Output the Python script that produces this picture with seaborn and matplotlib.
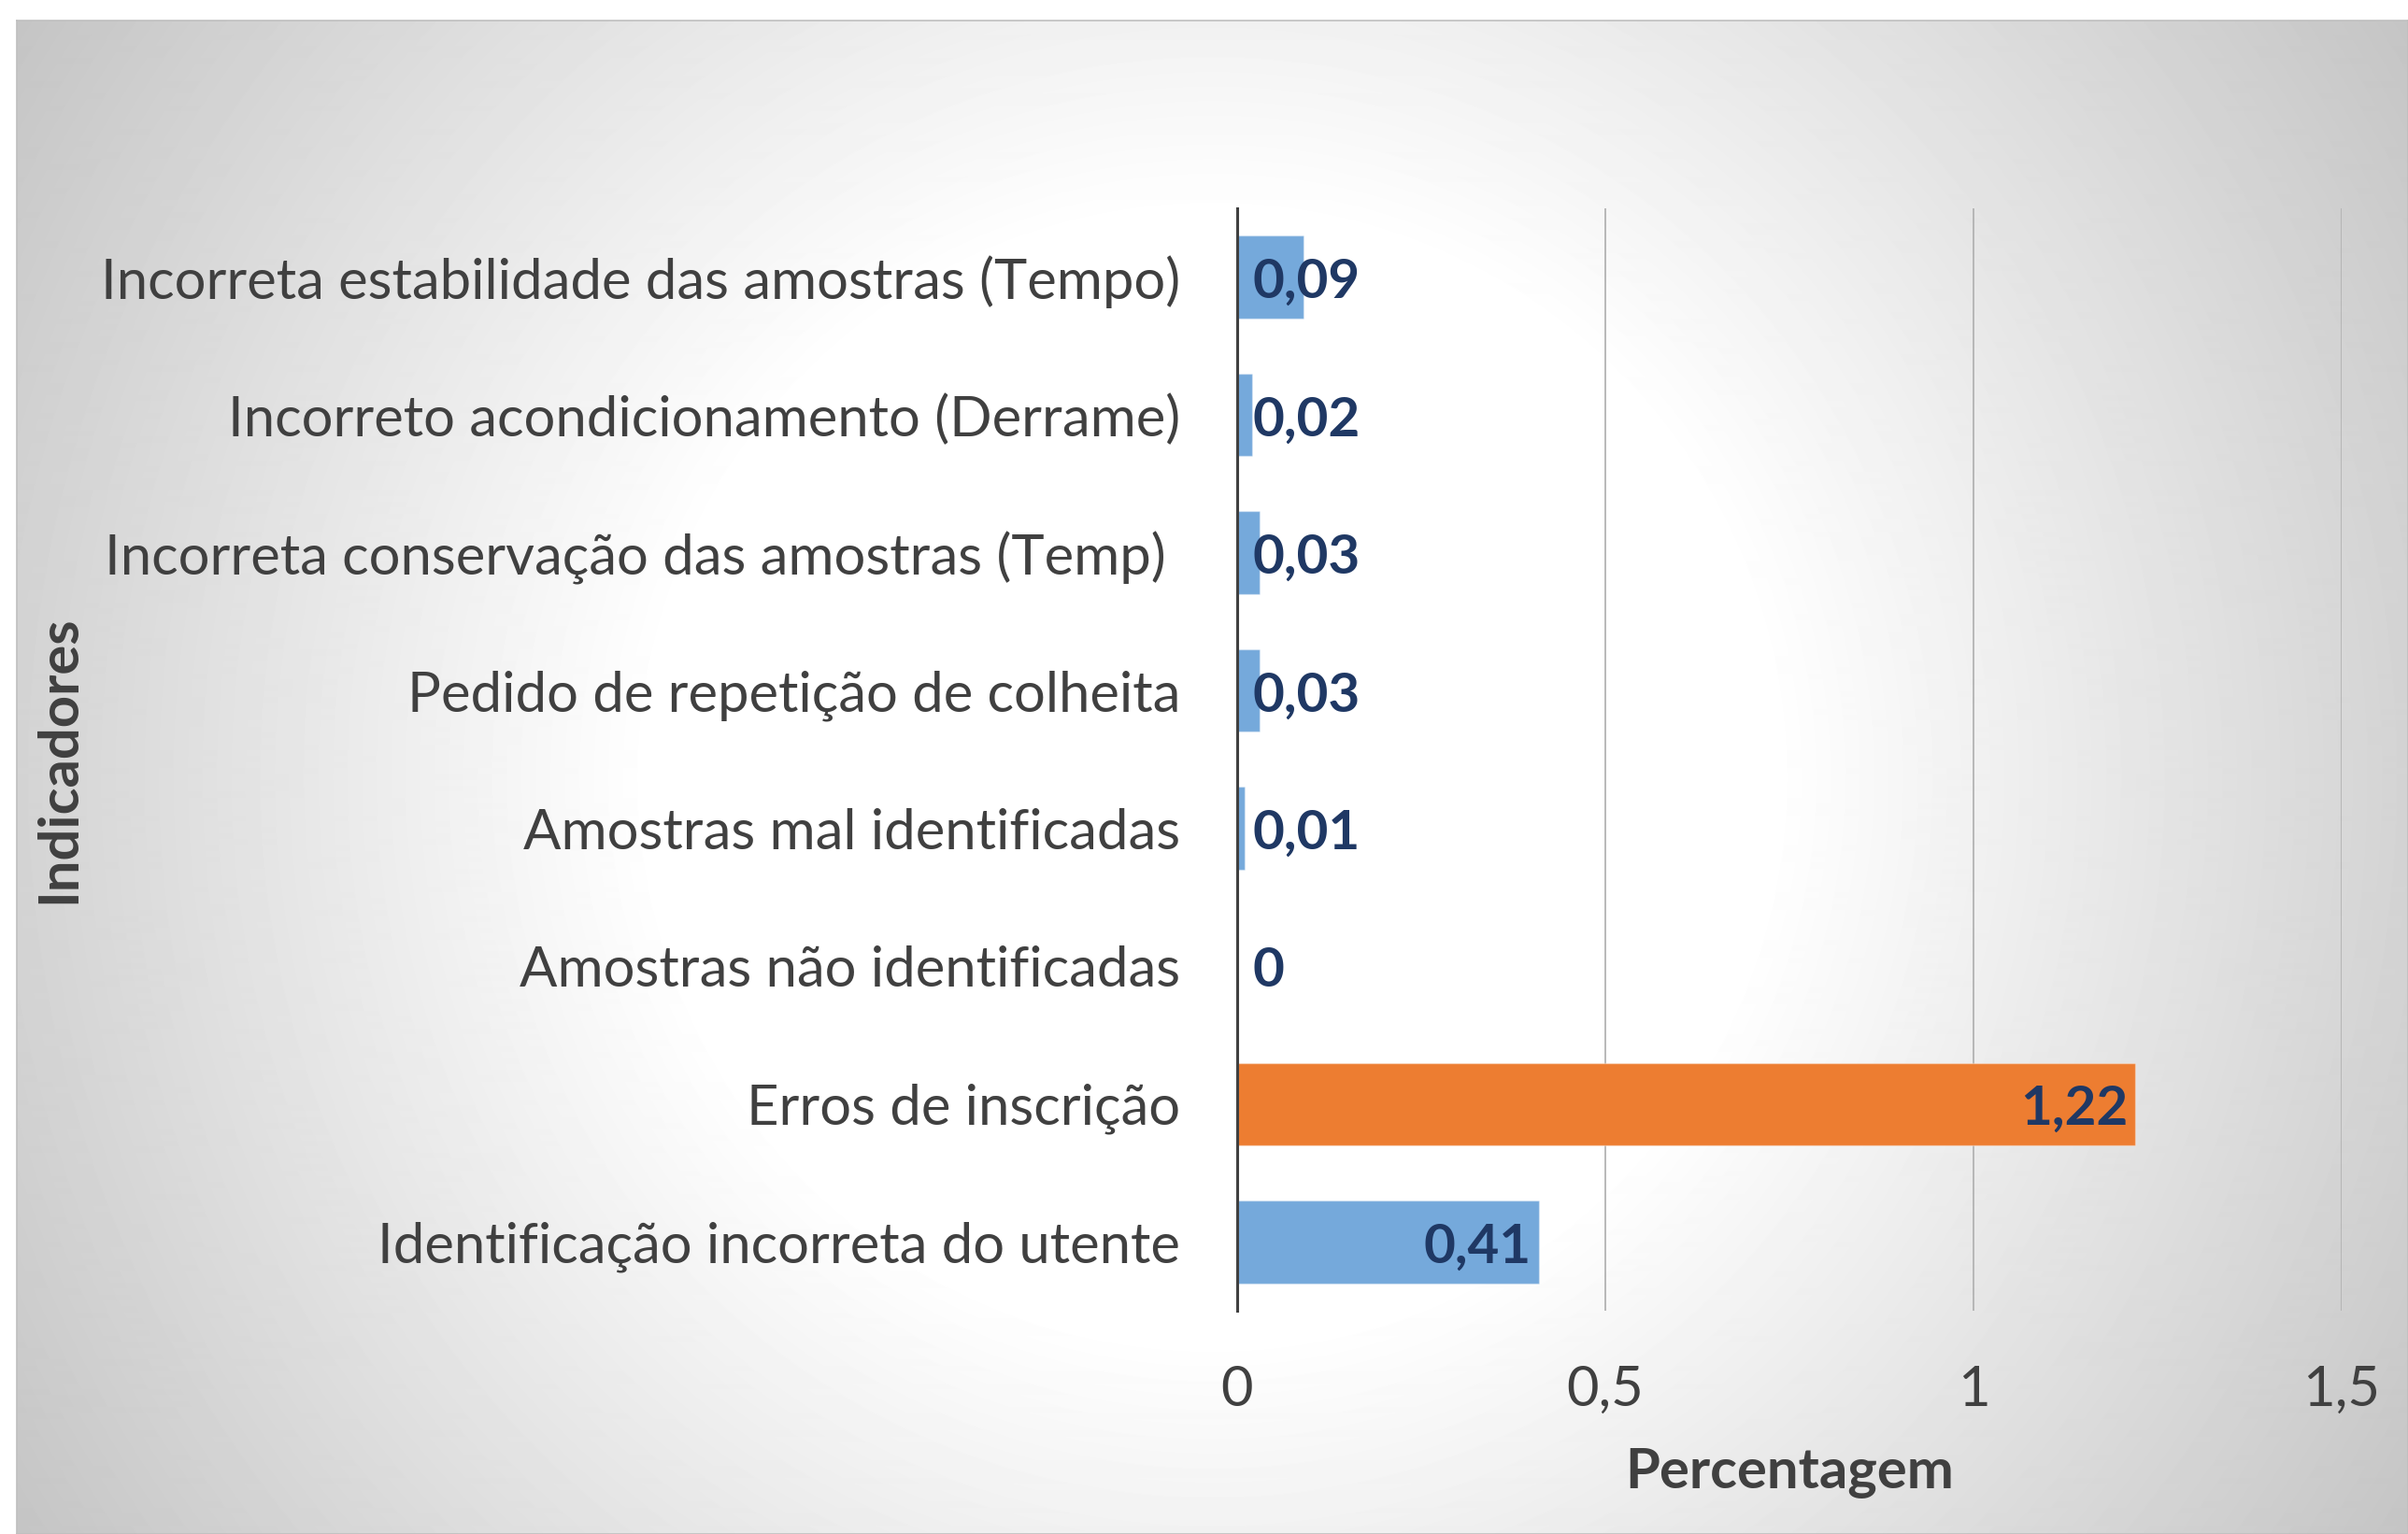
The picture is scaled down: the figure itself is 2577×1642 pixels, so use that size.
import numpy as np
import matplotlib
matplotlib.use("Agg")
import matplotlib.pyplot as plt
from matplotlib.ticker import FuncFormatter
import seaborn as sns

# data (top to bottom as in the chart)
categories = [
    "Incorreta estabilidade das amostras (Tempo)",
    "Incorreto acondicionamento (Derrame)",
    "Incorreta conservação das amostras (Temp) ",
    "Pedido de repetição de colheita",
    "Amostras mal identificadas",
    "Amostras não identificadas",
    "Erros de inscrição",
    "Identificação incorreta do utente",
]
values = [0.09, 0.02, 0.03, 0.03, 0.01, 0, 1.22, 0.41]
highlight = "Erros de inscrição"
x_ticks = [0, 0.5, 1, 1.5]

BLUE = "#75A9DB"
ORANGE = "#ED7D31"
LABEL_COL = "#1F3864"
TEXT_COL = "#404040"

sns.set_style("white")
plt.rcParams["font.family"] = ["Lato", "DejaVu Sans"]

W, H = 2577, 1642
fig = plt.figure(figsize=(W / 100, H / 100), dpi=100)
fig.patch.set_facecolor("white")

# radial grey gradient behind the chart area
x0_px, y0_px = 18, 22
bg = fig.add_axes([x0_px / W, 0, 1 - x0_px / W, (H - y0_px) / H])
xx, yy = np.meshgrid(np.arange(x0_px, W), np.arange(y0_px, H))
cx, cy = (x0_px + W) / 2, (y0_px + H) / 2
r = np.hypot(xx - cx, yy - cy)
shade = 1 - np.clip((r - 600) / 914, 0, None) * 0.23
shade = np.clip(shade, 0.74, 1)
bg.imshow(shade, cmap="gray", vmin=0, vmax=1, aspect="auto",
          interpolation="bilinear")
bg.set_xticks([])
bg.set_yticks([])
for s in bg.spines.values():
    s.set_color("#bfbfbf")
    s.set_linewidth(1.2)

ax = fig.add_axes([1324 / W, (H - 1403) / H, (2506 - 1324) / W, (1403 - 223) / H])
ax.set_facecolor("none")

palette = [ORANGE if c == highlight else BLUE for c in categories]
sns.barplot(x=values, y=categories, hue=categories, palette=palette,
            orient="h", width=0.6, legend=False, ax=ax, saturation=1,
            edgecolor="#ffffff55", linewidth=1)

ax.set_xlim(0, 1.5)
ax.set_ylim(7.5, -0.5)
ax.set_xticks(x_ticks)
ax.xaxis.set_major_formatter(FuncFormatter(lambda v, p: f"{v:g}".replace(".", ",")))
ax.grid(axis="x", color="#b3b3b3", linewidth=1.3)
ax.set_axisbelow(True)
for side in ["top", "right", "bottom"]:
    ax.spines[side].set_visible(False)
ax.spines["left"].set_color("#404040")
ax.spines["left"].set_linewidth(2.2)
ax.spines["left"].set_zorder(5)

ax.tick_params(axis="x", length=0, pad=42, labelsize=43, labelcolor=TEXT_COL)
ax.tick_params(axis="y", length=0, pad=44, labelsize=43, labelcolor=TEXT_COL)

# data labels
for i, v in enumerate(values):
    txt = f"{v:g}".replace(".", ",")
    if v > 0.2:
        ax.annotate(txt, (v, i), xytext=(-6, -4), textcoords="offset points",
                    ha="right", va="center", fontsize=42, fontweight="bold",
                    color=LABEL_COL)
    else:
        ax.annotate(txt, (0, i), xytext=(12, -4), textcoords="offset points",
                    ha="left", va="center", fontsize=42, fontweight="bold",
                    color=LABEL_COL)

ax.set_xlabel("Percentagem", fontsize=43, fontweight="bold", color=TEXT_COL,
              labelpad=25)
ax.set_ylabel("Indicadores", fontsize=43, fontweight="bold", color=TEXT_COL)
ax.yaxis.set_label_coords((90 - 1324) / (2506 - 1324), 0.5)

fig.savefig("out.png", dpi=100)
